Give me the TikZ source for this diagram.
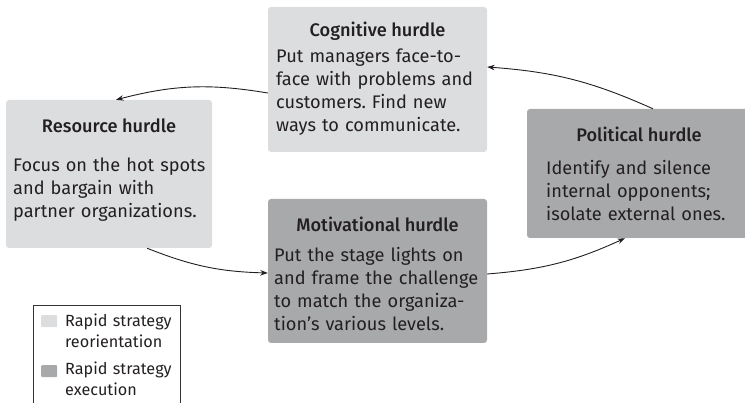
\documentclass[tikz,border=0pt]{standalone}
\usepackage{fontspec}
\setmainfont{Fira Sans}[BoldFont={Fira Sans Medium}]
\usetikzlibrary{arrows.meta}
\definecolor{lightbox}{HTML}{DCDDDF}
\definecolor{darkbox}{HTML}{A8A9AB}
\definecolor{txt}{HTML}{231F20}
\tikzset{
  box/.style={draw=none, rounded corners=3pt, inner sep=0pt},
  lbox/.style={box, fill=lightbox},
  dbox/.style={box, fill=darkbox},
  ttl/.style={anchor=base, inner sep=0pt, text=txt, font=\bfseries\fontsize{18.2}{22}\selectfont},
  bodytxt/.style={anchor=base west, inner sep=0pt, text=txt, text width=240pt, align=left, font=\frenchspacing\fontsize{18.2}{22.7}\selectfont},
  legtxt/.style={anchor=base west, inner sep=0pt, text=txt, text width=140pt, align=left, font=\fontsize{16.2}{21}\selectfont},
  arr/.style={-{Stealth[length=7.5pt,width=5.5pt]}, line width=0.9pt, color=txt},
}
\begin{document}
\begin{tikzpicture}[x=1pt,y=-1pt]
\useasboundingbox (0,0) rectangle (745,403);
% boxes
\node[lbox, minimum width=219pt, minimum height=145pt] (cog) at (377.5,79.5) {};
\node[lbox, minimum width=206pt, minimum height=148pt] (res) at (109,174) {};
\node[dbox, minimum width=219pt, minimum height=144pt] (mot) at (377.5,271) {};
\node[dbox, minimum width=221pt, minimum height=129pt] (pol) at (637.5,173.5) {};
% texts
\node[ttl] (cogt) at (377.5,37) {Cognitive hurdle};
\node[bodytxt] (cogb) at (276,63) {Put managers face-to-\\face with problems and\\customers. Find new\\ways to communicate.};
\node[ttl] (rest) at (109,133) {Resource hurdle};
\node[bodytxt] (resb) at (13,172) {Focus on the hot spots\\and bargain with\\partner organizations.};
\node[ttl] (mott) at (377.5,232) {Motivational hurdle};
\node[bodytxt] (motb) at (274,262) {Put the stage lights on\\and frame the challenge\\to match the organiza-\\tion’s various levels.};
\node[ttl] (polt) at (639,142) {Political hurdle};
\node[bodytxt] (polb) at (546,175) {Identify and silence\\internal opponents;\\isolate external ones.};
% arrows
\draw[arr] ([yshift=-13.5pt]cog.west) to[bend right=12] ([xshift=7pt]res.north);
\draw[arr] ([xshift=15.5pt]pol.north) to[bend right=10] ([yshift=12.5pt]cog.east);
\draw[arr] ([xshift=38pt]res.south) to[bend right=10] ([yshift=-2pt]mot.west);
\draw[arr] ([yshift=-3pt]mot.east) to[bend right=10] ([xshift=-12.5pt]pol.south);
% legend
\draw[line width=0.9pt, color=black!80] (33,305) rectangle (180,420);
\node[lbox, rounded corners=1pt, minimum width=16pt, minimum height=12pt, anchor=north west] (legl) at (41,315) {};
\node[dbox, rounded corners=1pt, minimum width=16pt, minimum height=12pt, anchor=north west] (legd) at (41,365) {};
\node[legtxt] (legla) at (65,327) {Rapid strategy\\reorientation};
\node[legtxt] (legda) at (65,375) {Rapid strategy\\execution};
\end{tikzpicture}
\end{document}
